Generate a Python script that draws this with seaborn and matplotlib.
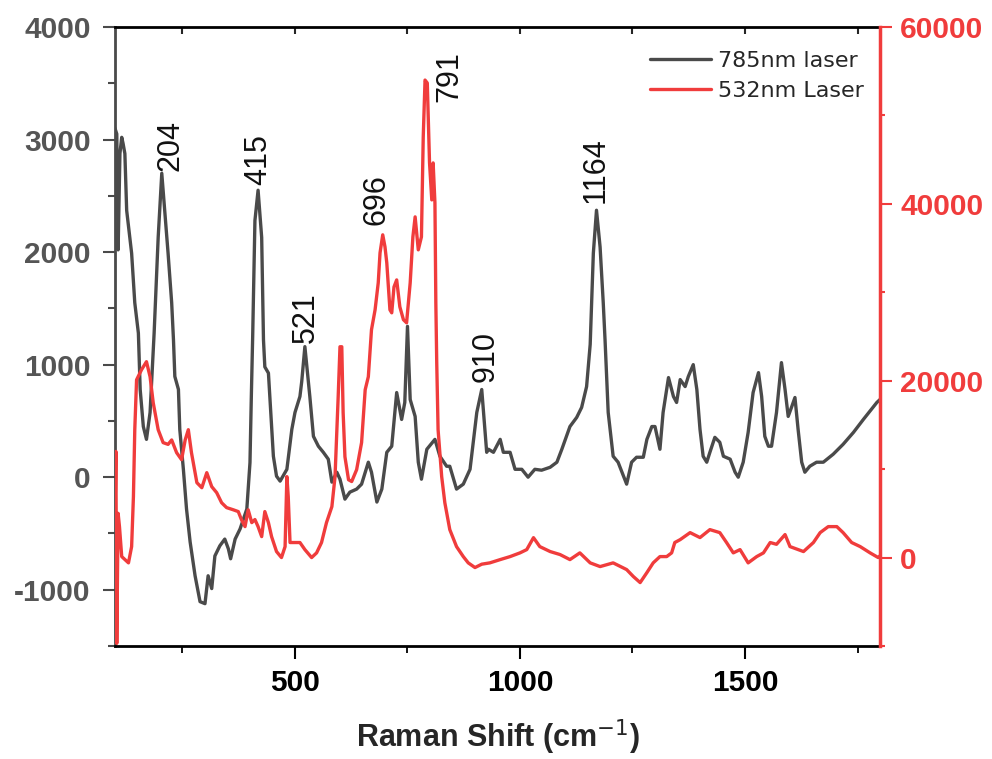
import matplotlib
matplotlib.use("Agg")
import matplotlib.pyplot as plt
import pandas as pd
import seaborn as sns
from matplotlib.ticker import MultipleLocator, FixedLocator

# 785 nm excitation spectrum (left axis)
shift_785 = [100, 104, 107, 111, 115, 118, 122, 126, 137, 144, 152, 156, 163, 170, 178, 187, 196, 204, 211, 218,
             226, 230, 233, 241, 244, 252, 259, 267, 278, 289, 300, 307, 315, 322, 333, 344, 352, 357, 367, 378,
             393, 400, 403, 406, 411, 418, 426, 430, 433, 441, 448, 452, 459, 467, 482, 493, 500, 511, 515, 522,
             533, 541, 552, 563, 574, 582, 593, 600, 611, 622, 637, 648, 663, 670, 682, 693, 704, 715, 726, 737,
             744, 750, 756, 767, 774, 781, 793, 811, 822, 837, 844, 859, 874, 889, 904, 915, 926, 930, 941, 956,
             963, 978, 989, 1004, 1018, 1033, 1048, 1067, 1082, 1093, 1111, 1126, 1137, 1148, 1156, 1163, 1170,
             1178, 1185, 1189, 1196, 1207, 1218, 1230, 1237, 1248, 1259, 1274, 1282, 1293, 1300, 1311, 1318, 1330,
             1341, 1348, 1356, 1367, 1374, 1385, 1393, 1400, 1407, 1415, 1422, 1433, 1444, 1452, 1467, 1478, 1485,
             1496, 1507, 1518, 1530, 1537, 1544, 1552, 1559, 1570, 1581, 1589, 1596, 1604, 1611, 1618, 1626, 1633,
             1644, 1659, 1674, 1696, 1718, 1741, 1763, 1793, 1800]
counts_785 = [3100, 3050, 2020, 2875, 3020, 2965, 2875, 2370, 1990, 1550, 1280, 780, 450, 336, 575, 1280, 2130, 2700,
              2345, 1990, 1550, 1220, 895, 780, 425, 70, -283, -575, -876, -1106, -1124, -876, -990, -700, -610,
              -550, -637, -725, -550, -460, -283, 130, 717, 1250, 2280, 2550, 2130, 1220, 980, 925, 450, 186, 9,
              -35, 70, 425, 575, 717, 850, 1160, 717, 363, 275, 221, 160, -44, 44, -18, -195, -133, -106, -62, 133,
              44, -221, -106, 221, 275, 752, 513, 664, 1340, 690, 540, 133, -18, 248, 336, 186, 97, 97, -106, -62,
              70, 575, 779, 221, 248, 221, 336, 221, 221, 70, 70, 0, 70, 62, 88, 133, 248, 450, 531, 620, 805, 1180,
              1990, 2372, 2045, 1550, 1220, 575, 186, 133, 9, -62, 133, 177, 177, 336, 450, 450, 248, 575, 885, 717,
              664, 867, 805, 894, 1000, 779, 425, 186, 133, 221, 354, 310, 186, 160, 44, 0, 133, 398, 752, 929, 717,
              363, 275, 275, 575, 1018, 779, 540, 628, 708, 425, 133, 44, 97, 133, 133, 204, 292, 398, 513, 664, 690]

# 532 nm excitation spectrum (right axis)
shift_532 = [100, 102, 104, 107, 110, 115, 130, 137, 141, 144, 148, 159, 170, 178, 185, 196, 207, 218, 226, 237,
             248, 256, 263, 270, 282, 293, 304, 315, 326, 337, 348, 363, 374, 381, 389, 396, 404, 411, 418, 426,
             433, 441, 448, 459, 470, 478, 482, 485, 489, 500, 511, 522, 537, 548, 559, 570, 582, 589, 596, 600,
             604, 607, 611, 619, 626, 637, 648, 656, 663, 670, 678, 685, 689, 695, 700, 704, 711, 715, 720, 726,
             733, 741, 748, 756, 762, 767, 774, 781, 785, 789, 794, 799, 804, 807, 811, 813, 815, 818, 826, 833,
             844, 859, 874, 885, 900, 915, 933, 956, 978, 1000, 1015, 1030, 1044, 1067, 1089, 1111, 1133, 1156,
             1178, 1207, 1237, 1252, 1267, 1282, 1296, 1311, 1326, 1337, 1344, 1356, 1378, 1400, 1422, 1444, 1459,
             1474, 1489, 1507, 1526, 1541, 1556, 1570, 1589, 1600, 1630, 1652, 1667, 1685, 1704, 1718, 1737, 1756,
             1778, 1796, 1800]
counts_532 = [4000, 12000, -9700, 5000, 3500, 110, -600, 1240, 6900, 14460, 20100, 21240, 22150, 20450, 17500,
              14460, 13000, 12800, 13300, 11860, 11070, 13300, 14460, 11860, 8470, 7900, 9600, 8020, 7340, 6200,
              5650, 5400, 5200, 4300, 3500, 5400, 3950, 4300, 3500, 2370, 5200, 3950, 2370, 680, 0, 1240, 9150,
              6900, 1700, 1700, 1700, 900, 0, 530, 1700, 3950, 5760, 9150, 18200, 23840, 23840, 16400, 11400, 8800,
              8600, 9940, 13000, 18980, 20450, 25760, 28020, 31070, 34460, 36500, 35140, 33330, 28020, 27680, 30600,
              31400, 28360, 26900, 26550, 31070, 36270, 38530, 34800, 36270, 47570, 54000, 53670, 44630, 40450,
              44630, 40110, 28800, 22030, 14460, 9150, 6200, 3160, 1240, 110, -600, -1130, -750, -600, -230, 110,
              530, 900, 2250, 1240, 680, 340, -230, 530, -600, -1020, -600, -1360, -2150, -2830, -1700, -600, 110,
              110, 530, 1700, 2030, 2820, 2260, 3160, 2820, 1700, 530, 900, -600, 110, 530, 1700, 1500, 2600, 1240,
              680, 1700, 2820, 3500, 3500, 2820, 1700, 1240, 530, 0, 200]

# Peak annotations (wavenumber text, anchor position on the left axis)
peak_text = ["204", "415", "521", "696", "791", "910", "1164"]
peak_text_x = [224, 419, 524, 681, 844, 924, 1167]
peak_text_y = [2725, 2593, 1195, 2240, 3330, 850, 2434]

x_ticks = [500, 1000, 1500]
left_ticks = [-1000, 0, 1000, 2000, 3000, 4000]
right_ticks = [0, 20000, 40000, 60000]

GRAY = "#4a4a4a"
RED = "#f03c3c"

sns.set_theme(style="white")
plt.rcParams["font.family"] = ["Liberation Sans", "DejaVu Sans"]

df785 = pd.DataFrame({"shift": shift_785, "counts": counts_785})
df532 = pd.DataFrame({"shift": shift_532, "counts": counts_532})

fig = plt.figure(figsize=(9.92, 7.59), dpi=100)
ax = fig.add_axes([0.1159, 0.1489, 0.7712, 0.8155])
sns.lineplot(data=df785, x="shift", y="counts", ax=ax, color=GRAY, lw=2.4,
             sort=False, estimator=None, label="785nm laser")
ax2 = ax.twinx()
sns.lineplot(data=df532, x="shift", y="counts", ax=ax2, color=RED, lw=2.4,
             sort=False, estimator=None, label="532nm Laser")

ax.set_xlim(100, 1800)
ax.set_ylim(-1500, 4000)
ax2.set_ylim(-10000, 60000)

tick_font = dict(family=["Liberation Sans", "DejaVu Sans"], weight="bold", size=21.5)

# x axis: outward ticks at bottom, inward ticks on top
ax.xaxis.set_major_locator(FixedLocator(x_ticks))
ax.xaxis.set_minor_locator(MultipleLocator(250))
ax.tick_params(axis="x", which="major", direction="out", length=9.5, width=1.5, color="black",
               top=False, bottom=True, pad=7)
ax.tick_params(axis="x", which="minor", direction="out", length=5, width=1.3, color="black",
               top=False, bottom=True)
ax.set_xticklabels([str(v) for v in x_ticks], fontdict=tick_font, color="black")
top = ax.secondary_xaxis("top")
top.xaxis.set_major_locator(FixedLocator(x_ticks))
top.xaxis.set_minor_locator(MultipleLocator(250))
top.tick_params(which="both", direction="in", length=5, width=1.5, labeltop=False)
top.spines["top"].set_visible(False)

# left axis
ax.yaxis.set_major_locator(FixedLocator(left_ticks))
ax.yaxis.set_minor_locator(MultipleLocator(500))
ax.tick_params(axis="y", which="major", direction="out", length=8.6, width=1.5, color=GRAY,
               left=True, right=False, pad=9)
ax.tick_params(axis="y", which="minor", direction="out", length=5, width=1.5, color=GRAY,
               left=True, right=False)
ax.set_yticklabels([str(v) for v in left_ticks], fontdict=tick_font, color="#555555")

# right axis
ax2.yaxis.set_major_locator(FixedLocator(right_ticks))
ax2.yaxis.set_minor_locator(MultipleLocator(10000))
ax2.tick_params(axis="y", which="major", direction="out", length=8.6, width=1.5, color=RED, right=True, pad=6)
ax2.tick_params(axis="y", which="minor", direction="out", length=3.6, width=1.5, color=RED, right=True)
ax2.set_yticklabels([str(v) for v in right_ticks], fontdict=tick_font, color=RED)

for s in ["top", "bottom"]:
    ax.spines[s].set_color("black")
    ax.spines[s].set_linewidth(2)
ax.spines["left"].set_color(GRAY)
ax.spines["left"].set_linewidth(2)
ax.spines["right"].set_visible(False)
for s in ["top", "bottom", "left"]:
    ax2.spines[s].set_visible(False)
ax2.spines["right"].set_color(RED)
ax2.spines["right"].set_linewidth(2.5)

ax.set_ylabel("")
ax2.set_ylabel("")
ax.set_xlabel("Raman Shift (cm$^{-1}$)", fontsize=22, fontweight="bold", labelpad=15)

# peak labels
for txt, px, py in zip(peak_text, peak_text_x, peak_text_y):
    ax.text(px, py, txt, rotation=90, ha="center", va="bottom", fontsize=22, color="#111111",
            family=["Liberation Sans", "DejaVu Sans"])

# legend with both series
h1, l1 = ax.get_legend_handles_labels()
h2, l2 = ax2.get_legend_handles_labels()
ax.get_legend().remove()
ax2.legend(h1 + h2, l1 + l2, loc="upper left", bbox_to_anchor=(0.699, 0.961), frameon=False,
           borderaxespad=0, borderpad=0, handlelength=2.75, handletextpad=0.3, labelspacing=0.45,
           prop={"family": ["DejaVu Sans"], "size": 16})

fig.savefig("out.png", dpi=100)
